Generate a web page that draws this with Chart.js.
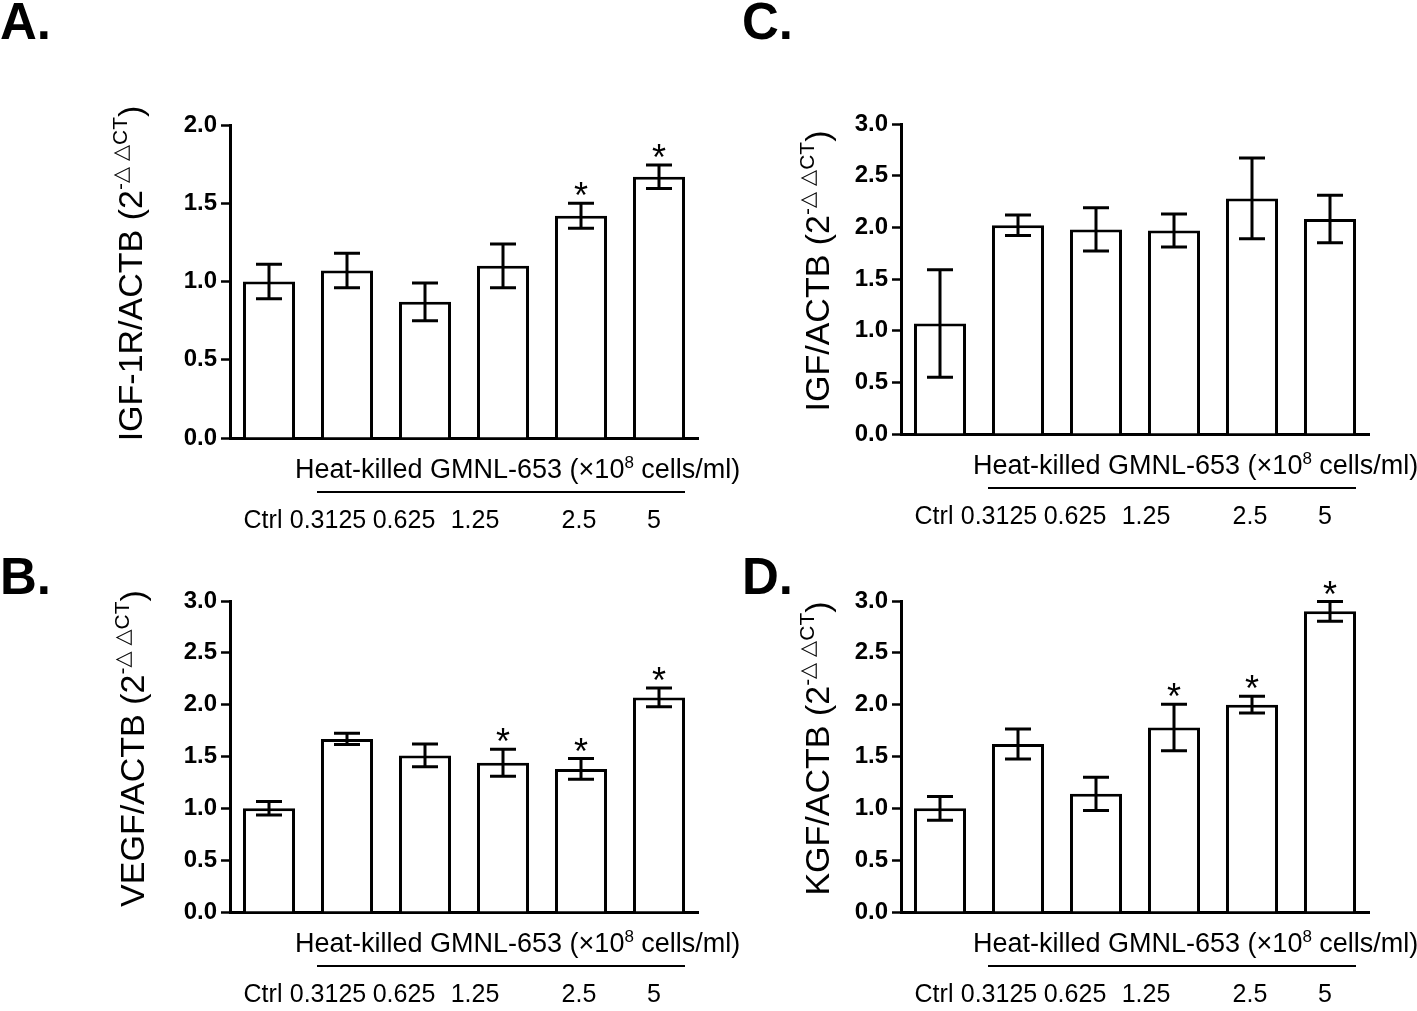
<!DOCTYPE html>
<html>
<head>
<meta charset="utf-8">
<script src="https://cdn.jsdelivr.net/npm/chart.js@4.4.1/dist/chart.umd.min.js"></script>
<style>
  html, body { margin: 0; padding: 0; background: #fff; }
  #page { position: relative; width: 1417px; height: 1011px; overflow: hidden; background: #fff; }
  .tag { position: absolute; font: bold 51px "Liberation Sans", Arial, sans-serif; line-height: 1; color: #000; }
  canvas { position: absolute; }
</style>
</head>
<body>
<div id="page">
  <div class="tag" style="left:0px;top:-4px">A.</div>
  <div class="tag" style="left:742px;top:-4px">C.</div>
  <div class="tag" style="left:0px;top:551px">B.</div>
  <div class="tag" style="left:742px;top:551px">D.</div>
  <canvas id="chartA"></canvas>
  <canvas id="chartC"></canvas>
  <canvas id="chartB"></canvas>
  <canvas id="chartD"></canvas>
</div>
<script>
// --- Data ---
const doseLabels = ['Ctrl', '0.3125', '0.625', '1.25', '2.5', '5'];

const igf1rMean = [1.00, 1.07, 0.87, 1.10, 1.42, 1.67];
const igf1rSem  = [0.11, 0.11, 0.12, 0.14, 0.08, 0.075];
const igf1rSig  = [false, false, false, false, true, true];

const igfMean = [1.07, 2.02, 1.98, 1.97, 2.28, 2.08];
const igfSem  = [0.52, 0.10, 0.21, 0.16, 0.39, 0.23];
const igfSig  = [false, false, false, false, false, false];

const vegfMean = [1.00, 1.67, 1.51, 1.44, 1.38, 2.07];
const vegfSem  = [0.065, 0.055, 0.11, 0.13, 0.10, 0.09];
const vegfSig  = [false, false, false, true, true, true];

const kgfMean = [1.00, 1.62, 1.14, 1.78, 2.00, 2.90];
const kgfSem  = [0.115, 0.145, 0.16, 0.225, 0.08, 0.095];
const kgfSig  = [false, false, false, true, true, true];

const headerText = ['Heat-killed GMNL-653 (\u00d710', '8', ' cells/ml)'];
const deltaSup = '-\u25B3 \u25B3CT';

// --- Layout ---
const FONT = '"Liberation Sans", Arial, "DejaVu Sans", sans-serif';
const CAP = 13;          // half width of error bar caps
const labelNudge = [-6, -19, -21, -28, -2, -5];

function panelBox(canvasLeft, canvasTop, w, h, l, r, t, b) {
  return { canvasLeft, canvasTop, w, h, l, r, t, b };
}

// --- Drawing helpers ---
function drawSupText(ctx, parts, size, x, y, align) {
  // parts: [normal, sup, normal]
  const supSize = Math.round(size * 0.62);
  ctx.font = size + 'px ' + FONT;
  const w0 = ctx.measureText(parts[0]).width;
  const w2 = ctx.measureText(parts[2]).width;
  ctx.font = supSize + 'px ' + FONT;
  const w1 = ctx.measureText(parts[1]).width;
  const total = w0 + w1 + w2;
  let sx = align === 'center' ? x - total / 2 : x;
  ctx.textAlign = 'left';
  ctx.font = size + 'px ' + FONT;
  ctx.fillText(parts[0], sx, y);
  ctx.font = supSize + 'px ' + FONT;
  ctx.fillText(parts[1], sx + w0, y - size * 0.36);
  ctx.font = size + 'px ' + FONT;
  ctx.fillText(parts[2], sx + w0 + w1, y);
}

const panelDecor = {
  id: 'panelDecor',
  afterDatasetsDraw(chart, args, opts) {
    const ctx = chart.ctx, xs = chart.scales.x, ys = chart.scales.y;
    ctx.save();
    ctx.strokeStyle = '#000';
    ctx.fillStyle = '#000';
    ctx.lineWidth = 3;
    opts.mean.forEach((m, i) => {
      const px = xs.getPixelForValue(i);
      const top = ys.getPixelForValue(m + opts.sem[i]);
      const bot = ys.getPixelForValue(m - opts.sem[i]);
      ctx.beginPath();
      ctx.moveTo(px, top); ctx.lineTo(px, bot);
      ctx.moveTo(px - CAP, top); ctx.lineTo(px + CAP, top);
      ctx.moveTo(px - CAP, bot); ctx.lineTo(px + CAP, bot);
      ctx.stroke();
      if (opts.sig[i]) {
        ctx.font = '36px ' + FONT;
        ctx.textAlign = 'center';
        ctx.textBaseline = 'alphabetic';
        ctx.fillText('*', px, top + 5);
      }
    });
    ctx.restore();
  },
  afterDraw(chart, args, opts) {
    const ctx = chart.ctx, xs = chart.scales.x, area = chart.chartArea;
    ctx.save();
    ctx.fillStyle = '#000';
    ctx.strokeStyle = '#000';
    ctx.textBaseline = 'alphabetic';

    // y axis title, rotated, with superscript exponent
    ctx.save();
    ctx.translate(area.left + opts.titleDx, (area.top + area.bottom) / 2 - 8);
    ctx.rotate(-Math.PI / 2);
    ctx.textBaseline = 'middle';
    drawSupText(ctx, [opts.title + ' (2', deltaSup, ')'], 34, 0, 0, 'center');
    ctx.restore();

    // group header and underline
    drawSupText(ctx, headerText, 27, area.left + opts.headerDx, area.bottom + 40, 'left');
    ctx.lineWidth = 2;
    ctx.beginPath();
    ctx.moveTo(xs.getPixelForValue(1) - 30, area.bottom + 54);
    ctx.lineTo(xs.getPixelForValue(5) + 26, area.bottom + 54);
    ctx.stroke();

    // dose labels
    ctx.font = '25px ' + FONT;
    ctx.textAlign = 'center';
    doseLabels.forEach((lab, i) => {
      ctx.fillText(lab, xs.getPixelForValue(i) + labelNudge[i], area.bottom + 90);
    });
    ctx.restore();
  }
};

function makePanel(id, box, mean, sem, sig, yMax, title, titleDx, headerDx) {
  const cv = document.getElementById(id);
  cv.width = box.w;
  cv.height = box.h;
  cv.style.left = box.canvasLeft + 'px';
  cv.style.top = box.canvasTop + 'px';
  const yWidth = box.l - box.canvasLeft;
  const xHeight = box.canvasTop + box.h - box.b;
  return new Chart(cv.getContext('2d'), {
    type: 'bar',
    data: {
      labels: doseLabels,
      datasets: [{
        data: mean,
        backgroundColor: '#fff',
        borderColor: '#000',
        borderWidth: 3,
        barPercentage: 0.667,
        categoryPercentage: 1
      }]
    },
    options: {
      responsive: false,
      animation: false,
      layout: { padding: { top: box.t - box.canvasTop, left: 0, right: box.canvasLeft + box.w - box.r, bottom: 0 } },
      plugins: {
        legend: { display: false },
        tooltip: { enabled: false },
        panelDecor: { mean, sem, sig, title, titleDx, headerDx }
      },
      scales: {
        x: {
          type: 'category',
          grid: { display: false },
          border: { display: true, color: '#000', width: 3 },
          ticks: { display: false },
          afterFit: s => { s.height = xHeight; }
        },
        y: {
          min: 0,
          max: yMax,
          ticks: {
            stepSize: 0.5,
            color: '#000',
            padding: 4,
            font: { family: '"Liberation Sans Narrow", "Liberation Sans", Arial, sans-serif', size: 24, weight: 'bold' },
            callback: v => v.toFixed(1)
          },
          grid: { drawOnChartArea: false, drawTicks: true, tickLength: 9, tickWidth: 2.5, tickColor: '#000' },
          border: { display: true, color: '#000', width: 3 },
          afterFit: s => { s.width = yWidth; }
        }
      }
    },
    plugins: [panelDecor]
  });
}

makePanel('chartA', panelBox(0, 60, 780, 490, 230, 698, 125, 438),
  igf1rMean, igf1rSem, igf1rSig, 2.0, 'IGF-1R/ACTB', -97, 65);
makePanel('chartC', panelBox(700, 60, 717, 490, 901, 1369, 124, 434),
  igfMean, igfSem, igfSig, 3.0, 'IGF/ACTB', -81, 72);
makePanel('chartB', panelBox(0, 550, 780, 461, 230, 698, 601, 912),
  vegfMean, vegfSem, vegfSig, 3.0, 'VEGF/ACTB', -95, 65);
makePanel('chartD', panelBox(700, 550, 717, 461, 901, 1369, 601, 912),
  kgfMean, kgfSem, kgfSig, 3.0, 'KGF/ACTB', -81, 72);
</script>
</body>
</html>
